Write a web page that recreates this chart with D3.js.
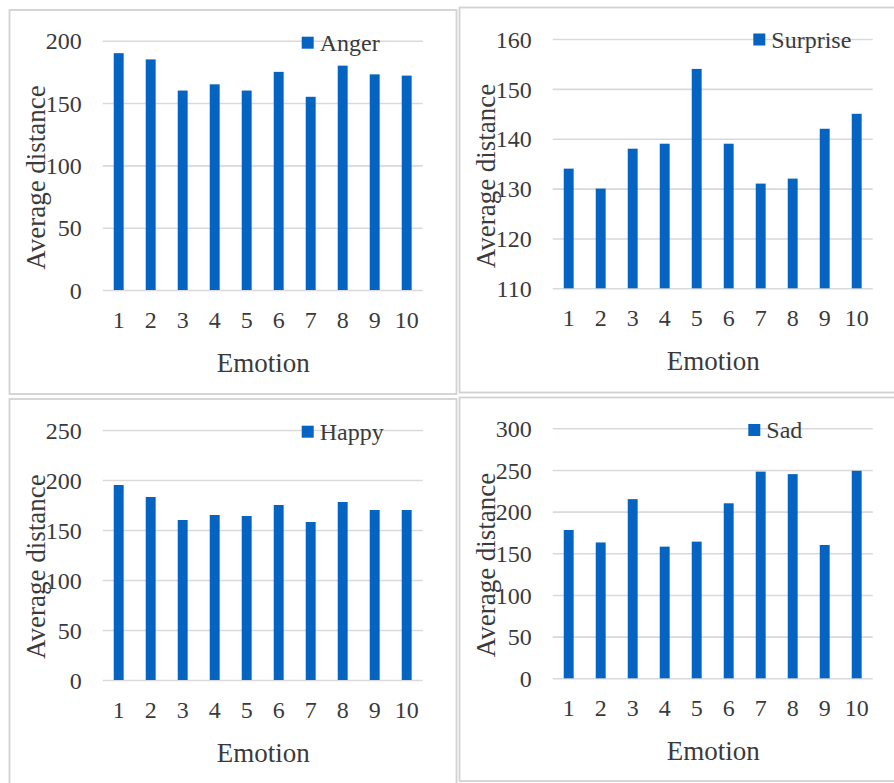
<!DOCTYPE html>
<html>
<head>
<meta charset="utf-8">
<script src="https://cdn.jsdelivr.net/npm/d3@7"></script>
<style>
  html, body { margin: 0; padding: 0; background: #ffffff; }
  svg { display: block; }
  svg text { font-family: "Liberation Serif", "Times New Roman", serif; }
</style>
</head>
<body>
<svg id="chart" width="894" height="783"></svg>
<script>
// ---- Data ----
const categories = ["1","2","3","4","5","6","7","8","9","10"];
const angerValues    = [190, 185, 160, 165, 160, 175, 155, 180, 173, 172];
const surpriseValues = [134, 130, 138, 139, 154, 139, 131, 132, 142, 145];
const happyValues    = [195, 183, 160, 165, 164, 175, 158, 178, 170, 170];
const sadValues      = [178, 163, 215, 158, 164, 210, 248, 245, 160, 249];
const angerTicks    = [0, 50, 100, 150, 200];
const surpriseTicks = [110, 120, 130, 140, 150, 160];
const happyTicks    = [0, 50, 100, 150, 200, 250];
const sadTicks      = [0, 50, 100, 150, 200, 250, 300];
const xTitle = "Emotion";
const yTitle = "Average distance";

// ---- Layout (panels) ----
const panels = [
  { name: "Anger",    values: angerValues,    ticks: angerTicks,
    frame: [9.5, 10, 447, 384],  plot: [102.7, 422.7, 40.7, 290],
    legend: [301.7, 36.7], ytitle: [45, 177.5] },
  { name: "Surprise", values: surpriseValues, ticks: surpriseTicks,
    frame: [459.5, 7.5, 450, 385], plot: [552.7, 872.7, 39, 288.3],
    legend: [753.3, 33.5], ytitle: [495, 176] },
  { name: "Happy",    values: happyValues,    ticks: happyTicks,
    frame: [9.5, 399, 447, 400], plot: [102.7, 422.7, 430, 680],
    legend: [301.7, 425.7], ytitle: [45, 566.7] },
  { name: "Sad",      values: sadValues,      ticks: sadTicks,
    frame: [459.5, 397.5, 450, 383.5], plot: [552.7, 872.7, 428.3, 678.3],
    legend: [748.3, 424], ytitle: [495, 565] }
];

const barColor = "#0563C1";
const gridColor = "#D9D9D9";
const textColor = "#3A3A3A";
const frameColor = "#D2D2D2";
const font = "'Liberation Serif', 'Times New Roman', serif";

const svg = d3.select("#chart");

panels.forEach(p => {
  const g = svg.append("g");
  const [fx, fy, fw, fh] = p.frame;
  g.append("rect")
    .attr("x", fx).attr("y", fy).attr("width", fw).attr("height", fh)
    .attr("fill", "#ffffff").attr("stroke", frameColor).attr("stroke-width", 1.8);

  const [x0, x1, yTop, y0] = p.plot;
  const x = d3.scaleBand().domain(categories).range([x0, x1])
    .paddingInner(0.69).paddingOuter(0.345);
  const y = d3.scaleLinear()
    .domain([p.ticks[0], p.ticks[p.ticks.length - 1]])
    .range([y0, yTop]);

  // gridlines + y tick labels
  const yAxis = g.append("g")
    .attr("transform", `translate(${x0},0)`)
    .call(d3.axisLeft(y).tickValues(p.ticks).tickSize(-(x1 - x0)).tickPadding(21).tickFormat(d3.format("d")));
  yAxis.attr("font-family", null);
  yAxis.select(".domain").remove();
  yAxis.selectAll(".tick line").attr("stroke", gridColor).attr("stroke-width", 1.6);
  yAxis.selectAll(".tick text")
    .attr("fill", textColor).style("font-family", font).attr("font-size", 24)
    .attr("dy", "0.34em");

  // bars
  g.append("g").selectAll("rect")
    .data(p.values)
    .join("rect")
    .attr("x", (d, i) => x(categories[i]))
    .attr("width", x.bandwidth())
    .attr("y", d => y(d))
    .attr("height", d => y(p.ticks[0]) - y(d))
    .attr("fill", barColor);

  // x tick labels
  const xAxis = g.append("g")
    .attr("transform", `translate(0,${y0})`)
    .call(d3.axisBottom(x).tickSize(0).tickPadding(0));
  xAxis.attr("font-family", null);
  xAxis.select(".domain").remove();
  xAxis.selectAll(".tick text")
    .attr("y", 38).attr("dy", 0)
    .attr("fill", textColor).style("font-family", font).attr("font-size", 24);

  // x title
  g.append("text")
    .attr("x", (x0 + x1) / 2 + 0.5).attr("y", y0 + 81.7)
    .attr("text-anchor", "middle")
    .attr("fill", textColor).style("font-family", font).attr("font-size", 27)
    .text(xTitle);

  // y title
  g.append("text")
    .attr("transform", `translate(${p.ytitle[0]},${p.ytitle[1]}) rotate(-90)`)
    .attr("text-anchor", "middle")
    .attr("fill", textColor).style("font-family", font).attr("font-size", 27)
    .text(yTitle);

  // legend
  const [lx, ly] = p.legend;
  g.append("rect")
    .attr("x", lx).attr("y", ly).attr("width", 12).attr("height", 12)
    .attr("fill", barColor);
  g.append("text")
    .attr("x", lx + 18).attr("y", ly + 6)
    .attr("dy", "0.34em")
    .attr("fill", textColor).style("font-family", font).attr("font-size", 24)
    .text(p.name);
});
</script>
</body>
</html>
